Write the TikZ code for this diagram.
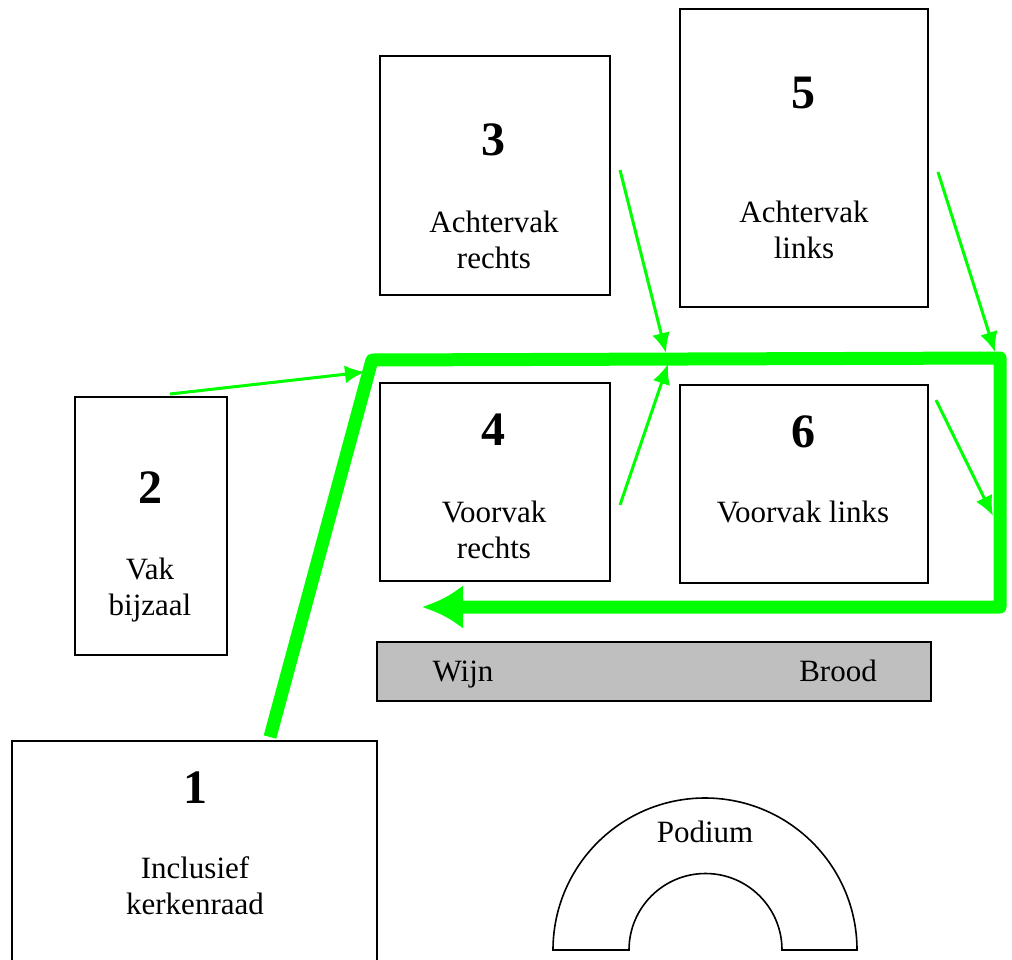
\documentclass[tikz,border=0pt]{standalone}
\usepackage{fontspec}
\setmainfont{Liberation Serif}
\usepackage{tikz}
\tikzstyle{vak} = [rectangle, draw=black, thick, fill=white, inner sep=0pt]
\tikzstyle{nummer} = [font=\fontsize{24}{28}\selectfont\bfseries]
\tikzstyle{naam} = [font=\fontsize{15.5}{18}\selectfont, align=center]
\tikzstyle{route} = [line width=6.5pt, draw={rgb,255:red,0;green,255;blue,0}, line join=round, -{Latex[length=20.5pt,width=22pt]}]
\tikzstyle{pijl} = [line width=1.5pt, draw={rgb,255:red,0;green,255;blue,0}, fill={rgb,255:red,0;green,255;blue,0}, -{Latex[length=10pt,width=9pt]}]
\usetikzlibrary{arrows.meta}

\begin{document}
\begin{tikzpicture}[x=0.5pt, y=-0.5pt]
        \useasboundingbox (0,0) rectangle (1012,959);
        % vakken
        \node (vak3) [vak, minimum width=115pt, minimum height=119.5pt] at (495,175.5) {};
        \node (vak5) [vak, minimum width=124pt, minimum height=149pt] at (804,158) {};
        \node (vak4) [vak, minimum width=115pt, minimum height=99pt] at (495,482) {};
        \node (vak6) [vak, minimum width=124pt, minimum height=99pt] at (804,484) {};
        \node (vak2) [vak, minimum width=76pt, minimum height=129pt] at (151,526) {};
        \node (vak1) [vak, minimum width=182.5pt, minimum height=117pt] at (194.5,858) {};
        \node (tafel) [vak, fill=black!25, minimum width=277pt, minimum height=29.5pt] at (654,671.5) {};
        \node (nr3) [nummer] at (493,140) {3};
        \node (nr5) [nummer] at (803,93) {5};
        \node (nr4) [nummer] at (493,430) {4};
        \node (nr6) [nummer] at (803,432) {6};
        \node (nr2) [nummer] at (150,488) {2};
        \node (nr1) [nummer] at (195,788) {1};
        \node (naam3) [naam] at (494,240) {Achtervak\\rechts};
        \node (naam5) [naam] at (804,230) {Achtervak\\links};
        \node (naam4) [naam] at (494,530) {Voorvak\\rechts};
        \node (naam6) [naam] at (803,512) {Voorvak links};
        \node (naam2) [naam] at (150,590) {Vak\\bijzaal};
        \node (naam1) [naam] at (195,886) {Inclusief\\kerkenraad};
        \node (wijn) [naam, anchor=base] at (463,681) {Wijn};
        \node (brood) [naam, anchor=base] at (838,681) {Brood};
        % podium
        \draw [thick] (553,950) arc[start angle=180, end angle=0, radius=76pt] -- (782,950) arc[start angle=0, end angle=180, radius=38.25pt] -- cycle;
        \node (podium) [naam] at (705,832) {Podium};
        % looproute
        \coordinate (start) at (270,737);
        \coordinate (hoekA) at (372,360);
        \coordinate (hoekB) at (1000,358);
        \coordinate (hoekC) at (1000,607);
        \coordinate (eind) at (422,607);
        \draw [route] (start) -- (hoekA) -- (hoekB) -- (hoekC) -- (eind);
        % aansluitingen
        \coordinate (uit2) at (170,394);
        \coordinate (in2) at (365,372);
        \coordinate (uit3) at (620,170);
        \coordinate (in3) at (666,353);
        \coordinate (uit4) at (620,505);
        \coordinate (in4) at (668,364);
        \coordinate (uit5) at (938,172);
        \coordinate (in5) at (995,352);
        \coordinate (uit6) at (936,400);
        \coordinate (in6) at (993,516);
        \draw [pijl] (uit2) -- (in2);
        \draw [pijl] (uit3) -- (in3);
        \draw [pijl] (uit4) -- (in4);
        \draw [pijl] (uit5) -- (in5);
        \draw [pijl] (uit6) -- (in6);
\end{tikzpicture}
\end{document}
